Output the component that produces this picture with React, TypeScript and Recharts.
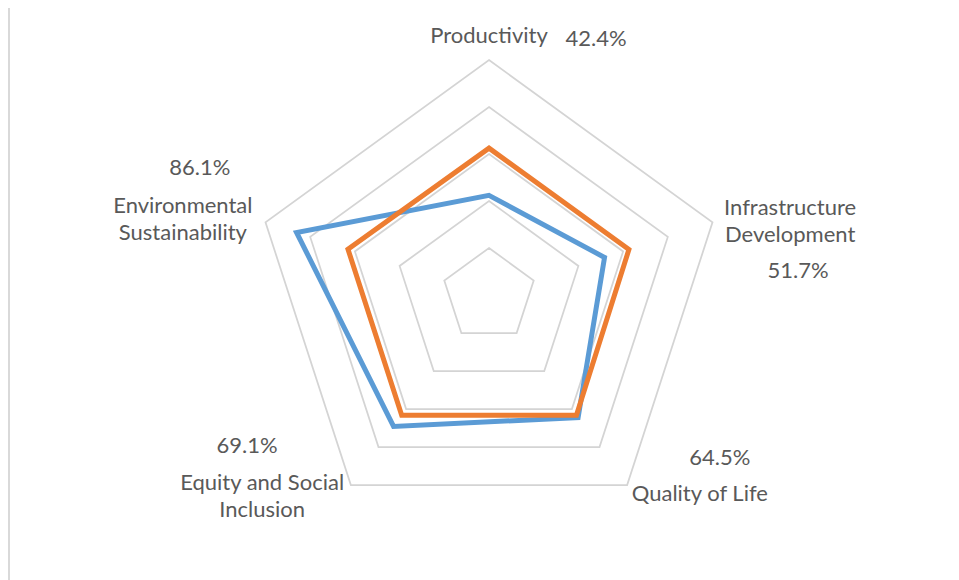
import React from "react";
import { RadarChart, Radar, PolarGrid, PolarAngleAxis, PolarRadiusAxis } from "recharts";

// pillars of the index
const categories = [
  "Productivity",
  "Infrastructure Development",
  "Quality of Life",
  "Equity and Social Inclusion",
  "Environmental Sustainability",
];
// how each name wraps on the chart
const categoryLines = [
  ["Productivity"],
  ["Infrastructure", "Development"],
  ["Quality of Life"],
  ["Equity and Social", "Inclusion"],
  ["Environmental", "Sustainability"],
];
const cityScores = [0.424, 0.517, 0.645, 0.691, 0.861];
const benchmarkScores = [0.625, 0.626, 0.633, 0.632, 0.631];
const gridLevels = [0.2, 0.4, 0.6, 0.8, 1];

const data = categories.map((name, i) => ({
  name,
  city: cityScores[i],
  benchmark: benchmarkScores[i],
}));

const OUTER = 235;
const TEXT = "#595959";
const FONT = "Lato, 'Open Sans', sans-serif";

// label offsets from the tick anchor, per axis
const nameOffset = [
  { dx: 0, dy: -18 },
  { dx: 70, dy: -13 },
  { dx: 68, dy: 1 },
  { dx: -84, dy: -10 },
  { dx: -75, dy: -15 },
];
const pctOffset = [
  { dx: 107, dy: -15 },
  { dx: 78, dy: 50 },
  { dx: 88, dy: -35 },
  { dx: -99, dy: -47 },
  { dx: -58, dy: -53 },
];
const LINE_H = 27;
const FS = 22;

const AxisTick = (props: any) => {
  const { x, y, payload } = props;
  const i = payload.index;
  const lines = categoryLines[i];
  const n = nameOffset[i];
  const p = pctOffset[i];
  return (
    <g>
      {lines.map((line, k) => (
        <text
          key={k}
          x={x + n.dx}
          y={y + n.dy + k * LINE_H}
          textAnchor="middle"
          dominantBaseline="central"
          style={{ fontSize: FS, fill: TEXT, fontFamily: FONT }}
        >
          {line}
        </text>
      ))}
      <text
        x={x + p.dx}
        y={y + p.dy}
        textAnchor="middle"
        dominantBaseline="central"
        style={{ fontSize: FS, fill: TEXT, fontFamily: FONT }}
      >
        {(cityScores[i] * 100).toFixed(1)}%
      </text>
    </g>
  );
};

export default function App() {
  return (
    <div style={{ position: "relative", width: 951, height: 572 }}>
      <div
        style={{
          position: "absolute",
          left: 0,
          top: -1,
          width: 951,
          height: 573,
          borderTop: "1px solid #d9d9d9",
          borderLeft: "2px solid #d9d9d9",
          boxSizing: "border-box",
        }}
      />
      <div style={{ position: "absolute", left: -8, top: -8 }}>
        <RadarChart
          width={959}
          height={580}
          data={data}
          cx={489}
          cy={295}
          outerRadius={OUTER}
          margin={{ top: 0, right: 0, bottom: 0, left: 0 }}
        >
          <PolarGrid
            gridType="polygon"
            radialLines={false}
            polarRadius={gridLevels.map((v) => v * OUTER)}
            stroke="#d4d4d4"
            strokeWidth={1.75}
          />
          <PolarRadiusAxis domain={[0, 1]} tickCount={6} tick={false} axisLine={false} />
          <PolarAngleAxis dataKey="name" tick={<AxisTick />} tickLine={false} axisLine={false} />
          <Radar
            dataKey="city"
            stroke="#5B9BD5"
            strokeWidth={5}
            fill="none"
            fillOpacity={0}
            dot={false}
            isAnimationActive={false}
          />
          <Radar
            dataKey="benchmark"
            stroke="#ED7D31"
            strokeWidth={5}
            fill="none"
            fillOpacity={0}
            dot={false}
            isAnimationActive={false}
          />
        </RadarChart>
      </div>
    </div>
  );
}
